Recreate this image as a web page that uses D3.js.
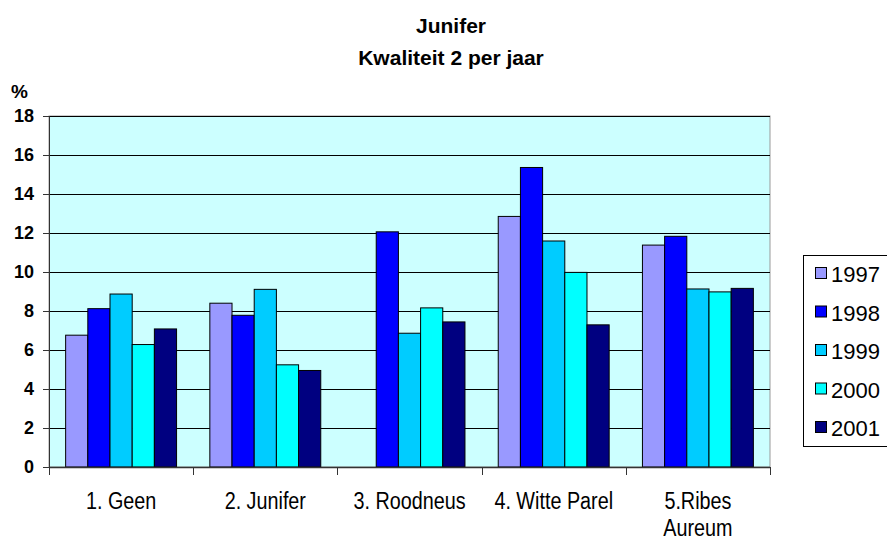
<html>
<head>
    <script src="https://d3js.org/d3.v7.min.js"></script>
    <style>
        body { margin: 0; background: white; }
    </style>
</head>
<body>
<div id="chart"></div>
<script type="text/javascript">
    // data
    var categories = ["1. Geen", "2. Junifer", "3. Roodneus", "4. Witte Parel", "5.Ribes Aureum"];
    var years = ["1997", "1998", "1999", "2000", "2001"];
    var v1997 = [6.76, 8.40, null, 12.85, 11.38];
    var v1998 = [8.12, 7.78, 12.06, 15.36, 11.83];
    var v1999 = [8.87, 9.11, 6.86, 11.59, 9.13];
    var v2000 = [6.28, 5.24, 8.16, 9.98, 8.98];
    var v2001 = [7.08, 4.95, 7.44, 7.29, 9.16];
    var yTicks = [0, 2, 4, 6, 8, 10, 12, 14, 16, 18];
    var colors = ["#9999FF", "#0000FF", "#00CCFF", "#00FFFF", "#000080"];

    var seriesValues = [v1997, v1998, v1999, v2000, v2001];

    var W = 887, H = 541;
    var margin = {top: 116, right: 117, bottom: 74, left: 49};
    var width = W - margin.left - margin.right;
    var height = H - margin.top - margin.bottom;
    var font = "Liberation Sans, Arial, sans-serif";

    var svg = d3.select("#chart").append("svg")
        .attr("width", W)
        .attr("height", H);

    var g = svg.append("g")
        .attr("transform", "translate(" + margin.left + "," + margin.top + ")");

    var x0 = d3.scaleBand().domain(categories).range([0, width]).padding(0);
    var x1 = d3.scaleBand().domain(years).range([0, x0.bandwidth()])
        .paddingInner(0).paddingOuter(0.75);
    var y = d3.scaleLinear().domain([0, 18]).range([height, 0]);

    // plot background
    g.append("rect")
        .attr("width", width)
        .attr("height", height)
        .attr("fill", "#CCFFFF")
        .attr("stroke", "#999999")
        .attr("stroke-width", 1);

    // gridlines
    g.selectAll(".grid")
        .data(yTicks.filter(function (d) { return d > 0; }))
        .enter().append("line")
        .attr("x1", 0).attr("x2", width)
        .attr("y1", function (d) { return Math.round(y(d)) + 0.5; })
        .attr("y2", function (d) { return Math.round(y(d)) + 0.5; })
        .attr("stroke", "#000")
        .attr("stroke-width", 1);

    // bars
    var rows = [];
    categories.forEach(function (c, i) {
        years.forEach(function (yr, j) {
            if (seriesValues[j][i] != null) rows.push({cat: c, year: yr, value: seriesValues[j][i], color: colors[j]});
        });
    });
    g.selectAll(".bar")
        .data(rows)
        .enter().append("rect")
        .attr("x", function (d) { return x0(d.cat) + x1(d.year); })
        .attr("y", function (d) { return y(d.value); })
        .attr("width", x1.bandwidth())
        .attr("height", function (d) { return height - y(d.value); })
        .attr("fill", function (d) { return d.color; })
        .attr("stroke", "#000")
        .attr("stroke-width", 1);

    // y axis
    var yAxis = g.append("g")
        .call(d3.axisLeft(y).tickValues(yTicks).tickSize(6).tickPadding(9));
    yAxis.select(".domain").attr("stroke", "#333");
    yAxis.selectAll(".tick line").attr("stroke", "#333");
    yAxis.selectAll("text")
        .attr("fill", "#000")
        .style("font-family", font)
        .style("font-weight", "bold")
        .style("font-size", "18px");

    // x axis, ticks on category boundaries
    var xAxis = g.append("g").attr("transform", "translate(0," + height + ")");
    xAxis.append("line")
        .attr("x1", 0).attr("x2", width)
        .attr("y1", 0.5).attr("y2", 0.5)
        .attr("stroke", "#333").attr("stroke-width", 1.5);
    var bounds = categories.map(function (c) { return x0(c); }).concat([width]);
    xAxis.selectAll(".xtick")
        .data(bounds)
        .enter().append("line")
        .attr("x1", function (d) { return Math.round(d) + 0.5; })
        .attr("x2", function (d) { return Math.round(d) + 0.5; })
        .attr("y1", 0).attr("y2", 8)
        .attr("stroke", "#333");

    // condensed look via horizontal scaling
    var xLabels = xAxis.selectAll(".xlabel")
        .data(categories)
        .enter().append("text")
        .attr("text-anchor", "middle")
        .style("font-family", font)
        .style("font-size", "23px")
        .attr("fill", "#000")
        .attr("transform", function (d) { return "translate(" + (x0(d) + x0.bandwidth() / 2) + ",0) scale(0.86,1)"; });
    xLabels.each(function (d) {
        var parts = d === "5.Ribes Aureum" ? ["5.Ribes", "Aureum"] : [d];
        var t = d3.select(this);
        parts.forEach(function (p, i) {
            t.append("tspan").attr("x", 0).attr("y", 42 + i * 27).text(p);
        });
    });

    // % label
    svg.append("text")
        .attr("x", 11).attr("y", 98)
        .style("font-family", font)
        .style("font-weight", "bold")
        .style("font-size", "19px")
        .text("%");

    // title
    var title = svg.append("text")
        .attr("text-anchor", "middle")
        .style("font-family", font)
        .style("font-weight", "bold")
        .style("font-size", "21px");
    title.append("tspan").attr("x", 451).attr("y", 33).text("Junifer");
    title.append("tspan").attr("x", 451).attr("y", 65).text("Kwaliteit 2 per jaar");

    // legend
    var legend = svg.append("g").attr("transform", "translate(803,255)");
    legend.append("rect")
        .attr("x", 0.5).attr("y", 0.5)
        .attr("width", 100).attr("height", 191)
        .attr("fill", "#fff")
        .attr("stroke", "#000");
    var items = legend.selectAll(".item")
        .data(years)
        .enter().append("g")
        .attr("transform", function (d, i) { return "translate(0," + (19 + i * 38.5) + ")"; });
    items.append("rect")
        .attr("x", 12.5).attr("y", -6.5)
        .attr("width", 11).attr("height", 11)
        .attr("fill", function (d, i) { return colors[i]; })
        .attr("stroke", "#000");
    items.append("text")
        .attr("x", 28).attr("y", 8)
        .style("font-family", font)
        .style("font-size", "22px")
        .attr("transform", "scale(1,1)")
        .text(function (d) { return d; });
</script>
</body>
</html>
